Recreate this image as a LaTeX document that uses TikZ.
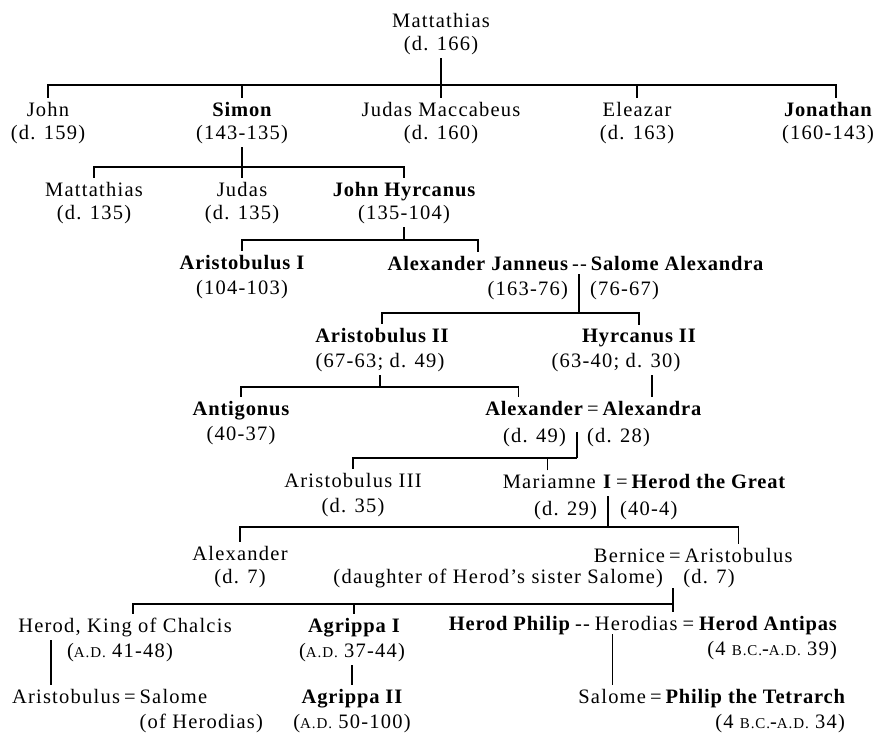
\documentclass[tikz,border=0pt]{standalone}
\usepackage{fontspec}
\setmainfont{Liberation Serif}[LetterSpace=6,BoldFeatures={LetterSpace=4}]
\usetikzlibrary{positioning}
\newcommand{\era}[1]{{\fontsize{15}{17}\selectfont #1}}
\tikzset{
  % --- people and dates ---
  who/.style={inner sep=0pt, outer xsep=0pt, outer ysep=4pt, anchor=base,
              font=\fontsize{20.5}{24}\selectfont},
  ruler/.style={who, font=\fontsize{20.5}{24}\selectfont\bfseries},
  wed/.style={who},
  % --- lines of descent ---
  kin/.style={line width=1.3pt, draw=black},
}
\begin{document}
\begin{tikzpicture}[x=1pt,y=-1pt,node distance=4pt]
  \useasboundingbox (0,0) rectangle (881,737);
  % junctions
  \coordinate (j1) at (441,85);
  \coordinate (j2) at (242,167);
  \coordinate (j3) at (404,240);
  \coordinate (aj) at (579,274);  \coordinate (j4) at (579,313);
  \coordinate (j5) at (382,387);
  \coordinate (aa) at (577,432);  \coordinate (j6) at (577,458);
  \coordinate (mh) at (608,496);  \coordinate (j7) at (608,527);
  \coordinate (ba) at (673,588);  \coordinate (j8) at (673,604);

  \node[who] (matt) at (441,27) {Mattathias};
  \node[who] (mattd) at (441,50) {(d. 166)};

  \node[who] (john) at (48,116) {John};
  \node[who] (johnd) at (48,139) {(d. 159)};
  \node[ruler] (simon) at (242,116) {Simon};
  \node[who] (simond) at (242,139) {(143-135)};
  \node[who] (judas) at (441,116) {Judas Maccabeus};
  \node[who] (judasd) at (441,139) {(d. 160)};
  \node[who] (eleaz) at (637,116) {Eleazar};
  \node[who] (eleazd) at (637,139) {(d. 163)};
  \node[ruler] (jona) at (828,116) {Jonathan};
  \node[who] (jonad) at (828,139) {(160-143)};

  \node[who] (matt2) at (94,196) {Mattathias};
  \node[who] (matt2d) at (94,219) {(d. 135)};
  \node[who] (judas2) at (242,196) {Judas};
  \node[who] (judas2d) at (242,219) {(d. 135)};
  \node[ruler] (hyrc) at (404,196) {John Hyrcanus};
  \node[who] (hyrcd) at (404,219) {(135-104)};

  \node[ruler] (arist1) at (242,269) {Aristobulus I};
  \node[who] (arist1d) at (242,294) {(104-103)};
  \node[ruler, anchor=base east] (alexj) at (568,270) {Alexander Janneus};
  \node[wed, base right=of alexj] (ajs) {-{}-};
  \node[ruler, base right=of ajs] (salome) {Salome Alexandra};
  \node[who, anchor=base east] (alexjd) at (568,295) {(163-76)};
  \node[who, anchor=base west] (salomed) at (590,295) {(76-67)};

  \node[ruler] (arist2) at (382,342) {Aristobulus II};
  \node[who] (arist2d) at (380,367) {(67-63; d. 49)};
  \node[ruler] (hyrc2) at (639,342) {Hyrcanus II};
  \node[who] (hyrc2d) at (616,367) {(63-40; d. 30)};

  \node[ruler] (antig) at (241,415) {Antigonus};
  \node[who] (antigd) at (241,440) {(40-37)};
  \node[ruler, anchor=base east] (alex) at (583,415) {Alexander};
  \node[wed, base right=of alex] (aas) {=};
  \node[ruler, base right=of aas] (alexa) {Alexandra};
  \node[who, anchor=base east] (alexd) at (566,442) {(d. 49)};
  \node[who, anchor=base west] (alexad) at (587,442) {(d. 28)};

  \node[who] (arist3) at (353,487) {Aristobulus III};
  \node[who] (arist3d) at (353,512) {(d. 35)};
  \node[who, anchor=base east] (mariam) at (612,488) {Mariamne \textbf{I}};
  \node[wed, base right=of mariam] (mhs) {=};
  \node[ruler, base right=of mhs] (herodg) {Herod the Great};
  \node[who, anchor=base east] (mariamd) at (597,515) {(d. 29)};
  \node[who, anchor=base west] (herodgd) at (620,515) {(40-4)};

  \node[who] (alexs) at (240,560) {Alexander};
  \node[who] (alexsd) at (240,583) {(d. 7)};
  \node[who, anchor=base east] (bernice) at (665,562) {Bernice};
  \node[wed, base right=of bernice] (bas) {=};
  \node[who, base right=of bas] (aristb) {Aristobulus};
  \node[who, anchor=base east] (daughter) at (663,583)
        {(daughter of Herod's sister Salome)};
  \node[who] (aristbd) at (709,583) {(d. 7)};

  \node[who] (herodk) at (125,632) {Herod, King of Chalcis};
  \node[who] (herodkd) at (120,657) {(\era{A.D.} 41-48)};
  \node[ruler] (agrippa) at (354,632) {Agrippa I};
  \node[who] (agrippad) at (352,657) {(\era{A.D.} 37-44)};
  \node[ruler, anchor=base east] (philip) at (570,630) {Herod Philip};
  \node[wed, base right=5pt of philip] (phs) {-{}-};
  \node[who, base right=5pt of phs] (herodias) {Herodias};
  \node[wed, base right=5pt of herodias] (has) {=};
  \node[ruler, base right=5pt of has] (antipas) {Herod Antipas};
  \node[who, anchor=base east] (antipasd) at ([yshift=-25pt]antipas.base east)
        {(4 \era{B.C.}-\era{A.D.} 39)};

  \node[who, anchor=base east] (aristo) at (120,703) {Aristobulus};
  \node[wed, base right=of aristo] (ass) {=};
  \node[who, base right=of ass] (salome2) {Salome};
  \node[who, anchor=base west] (salome2d) at ([yshift=-25pt]salome2.base west)
        {(of Herodias)};
  \node[ruler] (agrippa2) at (352,703) {Agrippa II};
  \node[who] (agrippa2d) at (352,728) {(\era{A.D.} 50-100)};
  \node[who, anchor=base east] (salome3) at (646,703) {Salome};
  \node[wed, base right=of salome3] (sps) {=};
  \node[ruler, base right=of sps] (philipt) {Philip the Tetrarch};
  \node[who, anchor=base east] (philiptd) at ([yshift=-25pt]philipt.base east)
        {(4 \era{B.C.}-\era{A.D.} 34)};

  % Mattathias and his sons
  \draw[kin] (mattd) -- (judas);
  \draw[kin] (john) |- (j1) -| ([xshift=8pt]jona.north);
  \foreach \n in {simon,eleaz} \draw[kin] (\n) -- (\n |- j1);
  % Simon
  \draw[kin] (simond) -- (judas2);
  \draw[kin] (matt2) |- (j2) -| (hyrc);
  % John Hyrcanus
  \draw[kin] (hyrcd) -- (j3);
  \draw[kin] (arist1) |- (j3) -| (alexj);
  % Alexander Janneus -- Salome Alexandra
  \draw[kin] (aj) -- (j4);
  \draw[kin] (arist2) |- (j4) -| (hyrc2);
  % Aristobulus II, Hyrcanus II
  \draw[kin] (arist2d) -- (arist2d |- j5);
  \draw[kin] (antig) |- (j5) -| ([xshift=-16pt]alex.north);
  \draw[kin] (hyrc2d.south -| alexa) -- (alexa);
  % Alexander = Alexandra
  \draw[kin] (aa) -- (j6);
  \draw[kin] (arist3) |- (j6);
  \draw[kin] ([xshift=-10pt]mariam.north) -- ([xshift=-10pt]mariam.north |- j6);
  % Mariamne I = Herod the Great
  \draw[kin] (mh) -- (j7);
  \draw[kin] (alexs) |- (j7) -| (aristb);
  % Bernice = Aristobulus
  \draw[kin] ([xshift=8pt]herodk.north) |- (j8);
  \draw[kin] (agrippa) -- (agrippa |- j8);
  \draw[kin] (ba) -- (ba |- herodias.north);
  % last generation
  \draw[kin] ([xshift=-74pt]herodk.south) -- ([xshift=-74pt]herodk.south |- aristo.north);
  \draw[kin] (agrippad) -- (agrippa2);
  \draw[kin] (salome3) -- (salome3 |- herodias.south);
\end{tikzpicture}
\end{document}
